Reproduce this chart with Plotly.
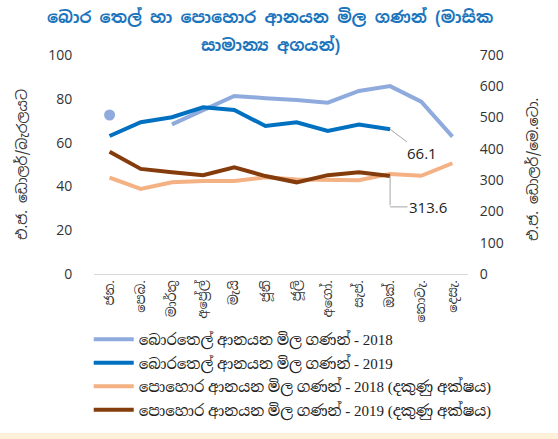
import plotly.graph_objects as go

months = ["ජන.", "පෙබ.", "මාර්තු", "අප්‍රේල්", "මැයි", "ජූනි", "ජූලි", "අගෝ.", "සැප්.", "ඔක්.", "නොවැ.", "දෙසැ."]

oil_2018 = [72.6, None, 68.3, 74.9, 81.3, 80.3, 79.5, 78.2, 83.6, 85.8, 78.7, 62.7]
oil_2019 = [63.0, 69.3, 71.6, 76.1, 74.9, 67.6, 69.3, 65.3, 68.3, 66.1]
fert_2018 = [308, 272, 293, 297, 297, 309, 302, 302, 300, 320, 314, 354]
fert_2019 = [391, 336, 325, 316, 341, 313, 293, 316, 325, 313.6]

names = [
    "බොරතෙල් ආනයන මිල ගණන් - 2018",
    "බොරතෙල් ආනයන මිල ගණන් - 2019",
    "පොහොර ආනයන මිල ගණන් - 2018 (දකුණු අක්ෂය)",
    "පොහොර ආනයන මිල ගණන් - 2019 (දකුණු අක්ෂය)",
]
title_lines = ["බොර තෙල් හා පොහොර ආනයන මිල ගණන් (මාසික", "සාමාන්‍ය අගයන්)"]
left_title = "එ.ජ. ඩොලර්/බැරලයට"
right_title = "එ.ජ. ඩොලර්/මෙ.ටො."

SANS = "Noto Sans Sinhala, Noto Sans, sans-serif"
SERIF = "Liberation Serif, Noto Serif Sinhala, serif"

c1, c2, c3, c4 = "#8FAADC", "#0070C0", "#F4B183", "#843C0C"

# points with no neighbours are drawn as dots (a line cannot show them)
lone = []
for i, v in enumerate(oil_2018):
    prev_ok = i > 0 and oil_2018[i - 1] is not None
    next_ok = i < len(oil_2018) - 1 and oil_2018[i + 1] is not None
    lone.append(v if (v is not None and not prev_ok and not next_ok) else None)

fig = go.Figure()
fig.add_trace(go.Scatter(x=months, y=oil_2018, name=names[0], mode="lines", legendgroup="a",
                         line=dict(color=c1, width=4), connectgaps=False))
fig.add_trace(go.Scatter(x=months, y=lone, mode="markers", showlegend=False, legendgroup="a",
                         marker=dict(size=11, color=c1), hoverinfo="skip"))
fig.add_trace(go.Scatter(x=months[:len(oil_2019)], y=oil_2019, name=names[1], mode="lines",
                         legendgroup="b", line=dict(color=c2, width=4)))
fig.add_trace(go.Scatter(x=months, y=fert_2018, name=names[2], mode="lines", yaxis="y2",
                         legendgroup="c", line=dict(color=c3, width=4)))
fig.add_trace(go.Scatter(x=months[:len(fert_2019)], y=fert_2019, name=names[3], mode="lines",
                         yaxis="y2", legendgroup="d", line=dict(color=c4, width=4)))

last_oil = len(oil_2019) - 1
last_fert = len(fert_2019) - 1

PL, PR, PT, PB = 94, 468, 55, 274
PW, PH = PR - PL, PB - PT

def px_x(p):
    return (p - PL) / PW

def px_y(p):
    return (PB - p) / PH

title_font = dict(family=SANS, size=16.5, color="#1C75BC", weight="bold")

fig.update_layout(
    width=558, height=439,
    margin=dict(l=PL, r=558 - PR, t=PT, b=439 - PB, autoexpand=False),
    paper_bgcolor="white", plot_bgcolor="white",
    showlegend=True,
    legend=dict(xref="container", yref="container", x=0.159, y=1 - 323 / 439,
                xanchor="left", yanchor="top", orientation="v",
                font=dict(family=SERIF, size=15, color="#222222"), tracegroupgap=1,
                itemwidth=40, bgcolor="rgba(0,0,0,0)"),
    xaxis=dict(type="category", range=[-0.5, len(months) - 0.5], tickangle=-90, showgrid=False,
               showline=True, linecolor="#D9D9D9", linewidth=1, ticks="", automargin=False,
               tickfont=dict(family=SERIF, size=13, color="#333333")),
    yaxis=dict(range=[0, 100], dtick=20, showgrid=False, zeroline=False, showline=False,
               ticks="outside", ticklen=18, tickcolor="rgba(0,0,0,0)", automargin=False,
               tickfont=dict(family="Open Sans, sans-serif", size=14, color="#333333")),
    yaxis2=dict(range=[0, 700], dtick=100, overlaying="y", side="right", showgrid=False,
                zeroline=False, showline=False, ticks="outside", ticklen=8, automargin=False,
                tickcolor="rgba(0,0,0,0)",
                tickfont=dict(family="Open Sans, sans-serif", size=14, color="#333333")),
    annotations=[
        dict(text=title_lines[0], xref="paper", yref="paper", x=px_x(270), y=px_y(17),
             xanchor="center", yanchor="middle", showarrow=False, font=title_font),
        dict(text=title_lines[1], xref="paper", yref="paper", x=px_x(270), y=px_y(45),
             xanchor="center", yanchor="middle", showarrow=False, font=title_font),
        dict(text=left_title, xref="paper", yref="paper", x=px_x(22), y=px_y(165), textangle=-90,
             xanchor="center", yanchor="middle", showarrow=False,
             font=dict(family=SANS, size=14, color="#333333")),
        dict(text=right_title, xref="paper", yref="paper", x=px_x(533), y=px_y(170), textangle=-90,
             xanchor="center", yanchor="middle", showarrow=False,
             font=dict(family=SANS, size=14, color="#333333")),
        dict(text=f"{oil_2019[last_oil]}", x=last_oil, y=oil_2019[last_oil], xref="x", yref="y",
             showarrow=True, arrowhead=0, arrowwidth=1, arrowcolor="#A6A6A6", ax=32, ay=24,
             font=dict(family="Open Sans, sans-serif", size=15, color="#222222")),
        dict(text="", x=last_fert, y=fert_2019[last_fert], xref="x", yref="y2",
             showarrow=True, arrowhead=0, arrowwidth=1, arrowcolor="#A6A6A6", ax=0, ay=31),
        dict(text=f"{fert_2019[last_fert]}", x=last_fert, y=fert_2019[last_fert], xref="x", yref="y2",
             yshift=-31, showarrow=True, arrowhead=0, arrowwidth=1, arrowcolor="#A6A6A6", ax=38, ay=0,
             font=dict(family="Open Sans, sans-serif", size=15, color="#222222")),
    ],
    shapes=[dict(type="rect", xref="paper", yref="paper", x0=px_x(0), x1=px_x(558),
                 y0=px_y(433), y1=px_y(445), fillcolor="#FDF2D9", line=dict(width=0), layer="below")],
)

fig.write_html("out.html", config={"displayModeBar": False},
               post_script="document.body.style.margin='0';document.body.style.overflow='hidden';")
